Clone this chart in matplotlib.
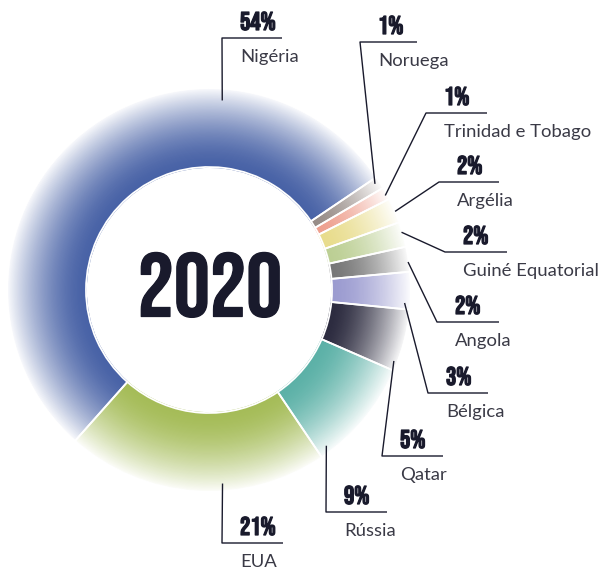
import math
import matplotlib
matplotlib.use("Agg")
import matplotlib.pyplot as plt
import matplotlib.patheffects as pe
from matplotlib import font_manager as fm

# importações de gás natural por origem, 2020 (%)
countries = ["Nigéria", "Noruega", "Trinidad e Tobago", "Argélia", "Guiné Equatorial",
             "Angola", "Bélgica", "Qatar", "Rússia", "EUA"]
shares = [54, 1, 1, 2, 2, 2, 3, 5, 9, 21]
year_label = "2020"

# base colour of each slice (strong tone at the inner edge)
base_colors = ["#4862a6", "#978c87", "#eea08f", "#e8dc8c", "#bccf94",
               "#777777", "#9b9bd0", "#2c2b3f", "#5cb1a7", "#a5bc58"]

W, H = 612, 569
CX, CY = 209, 290          # donut centre (pixels, top-left origin)
R_IN, R_OUT = 123, 201
START = 228.4              # Nigeria begins lower-left and runs clockwise
INK = "#191a2c"

# leader layout: anchor angle/radius on the ring, elbow point and line end (pixels)
anchor_deg = [86, 32.6, 28.2, 22.9, 16.7, 8, -3.8, -21, -53, -86]
anchor_r = [190, 197, 200, 202, 201, 201, 196, 198, 195, 194]
elbow = [(222, 38), (360, 42), (426, 113), (439, 182), (445, 252),
         (437, 322), (428, 393), (382, 456), (326, 512), (222, 543)]
line_len = [60, 57, 61, 60, 62, 62, 60, 61, 61, 61]

names = {f.name for f in fm.fontManager.ttflist}
display = next((n for n in ["Bebas Neue", "League Gothic", "Oswald"] if n in names), "DejaVu Sans")
body = next((n for n in ["Lato", "Open Sans", "Noto Sans"] if n in names), "DejaVu Sans")
heavy = [pe.withStroke(linewidth=0.9, foreground=INK)]


def py(y):
    return H - y


def mix(c, t):
    r, g, b = matplotlib.colors.to_rgb(c)
    return (r + (1 - r) * t, g + (1 - g) * t, b + (1 - b) * t)


fig = plt.figure(figsize=(W / 100, H / 100), dpi=100)
ax = fig.add_axes([0, 0, 1, 1])

# radial gradient: stack thin rings, outermost first
N = 70
dr = (R_OUT - R_IN) / N
for i in reversed(range(N)):
    t = i / (N - 1)
    fade = 0.95 * t ** 1.6
    ax.pie(shares, colors=[mix(c, fade) for c in base_colors],
           radius=R_IN + (i + 1) * dr, center=(CX, py(CY)),
           startangle=START, counterclock=False,
           wedgeprops=dict(width=dr * 1.8, linewidth=0))

# white separators between slices
ax.pie(shares, radius=R_OUT + 1, center=(CX, py(CY)), startangle=START,
       counterclock=False,
       wedgeprops=dict(width=R_OUT + 1 - R_IN, facecolor="none",
                       edgecolor="white", linewidth=1.3))

ax.text(CX + 1, py(285), year_label, ha="center", va="center", fontsize=65,
        fontfamily=display, color=INK, path_effects=heavy)

for name, val, ang, rr, (ex, ey), ln in zip(countries, shares, anchor_deg,
                                           anchor_r, elbow, line_len):
    a = math.radians(ang)
    x0 = CX + rr * math.cos(a)
    y0 = CY - rr * math.sin(a)
    ax.plot([x0, ex, ex + ln], [py(y0), py(ey), py(ey)], color=INK, lw=1.0,
            solid_capstyle="butt")
    ax.text(ex + 18, py(ey - 8), f"{val}%", ha="left", va="baseline",
            fontsize=18.5, fontfamily=display, color=INK, path_effects=heavy)
    ax.text(ex + 18, py(ey + 24), name, ha="left", va="baseline",
            fontsize=13.3, fontfamily=body, color="#3a3a46")

ax.set_xlim(0, W)
ax.set_ylim(0, H)
ax.set_aspect("equal")
ax.axis("off")
fig.savefig("out.png", dpi=100, facecolor="white")
